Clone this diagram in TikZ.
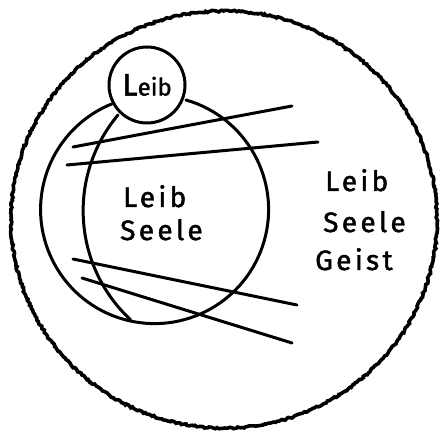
\documentclass[tikz,border=0pt]{standalone}
\usepackage{fontspec}
\newfontfamily\handfont[LetterSpace=12, FakeBold=1.6]{Fira Sans}
\newfontfamily\tightfont[FakeBold=1.6]{Fira Sans}
\usetikzlibrary{decorations.pathmorphing}

\begin{document}
\begin{tikzpicture}[
  x=1pt, y=1pt,
  stroke/.style={draw, line width=3pt, line cap=round},
  rough/.style={stroke, line width=3.6pt, decorate,
                decoration={random steps, segment length=2pt, amplitude=0.9pt}},
  word/.style={font=\handfont\fontsize{28}{28}\selectfont, inner sep=0pt,
               anchor=base west},
  ring/.style={circle, draw, line width=3pt, minimum size=76pt, inner sep=0pt,
               font=\tightfont},
]
  \useasboundingbox (0,0) rectangle (441,436);

  % Outer circle
  \draw[rough] (224,216.5) ellipse[x radius=213, y radius=208.5];

  % Small circle
  \node[ring] (top) at (147,351)
        {\fontsize{31}{31}\selectfont L\fontsize{24}{24}\selectfont eib};

  % Oval and inner arc
  \coordinate (ovR) at (186,336);
  \coordinate (inT) at (118,321);
  \draw[stroke] (ovR) arc[start angle=74, end angle=-248, radius=114];
  \draw[stroke] (inT) arc[start angle=140, end angle=227, radius=149];

  % Crossing lines
  \coordinate (a1) at (73,289);  \coordinate (b1) at (292,330);
  \coordinate (a2) at (67,271);  \coordinate (b2) at (318,294);
  \coordinate (a3) at (73,177);  \coordinate (b3) at (297,131);
  \coordinate (a4) at (82,158);  \coordinate (b4) at (292,93);
  \draw[stroke] (a1) -- (b1);
  \draw[stroke] (a2) -- (b2);
  \draw[stroke] (a3) -- (b3);
  \draw[stroke] (a4) -- (b4);

  % Texts
  \node[word] (mLeib)  at (123,229) {Leib};
  \node[word] (mSeele) at (120,196) {Seele};
  \node[word] (rLeib)  at (325,245) {Leib};
  \node[word] (rSeele) at (323,204) {Seele};
  \node[word] (rGeist) at (315,166) {Geist};
\end{tikzpicture}
\end{document}
